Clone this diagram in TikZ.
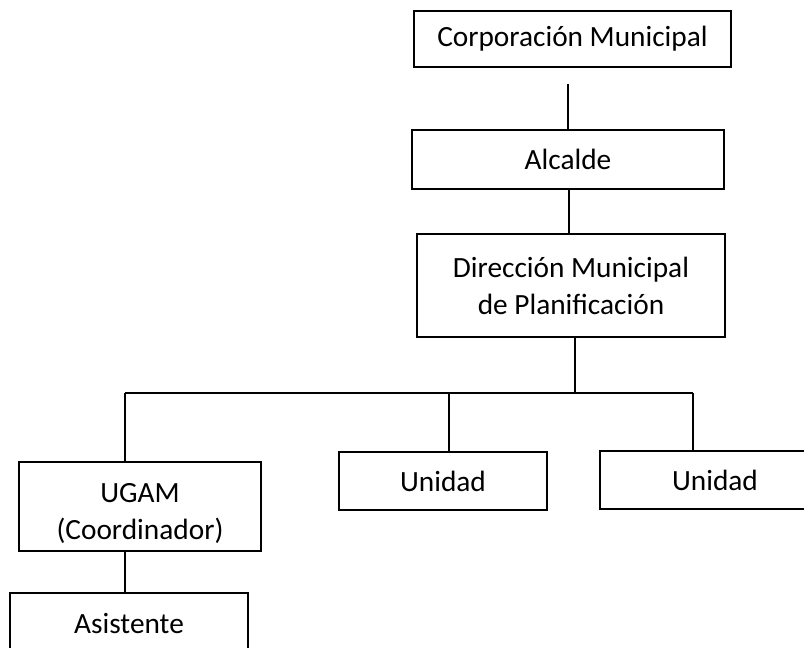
\documentclass[tikz,border=0pt]{standalone}
\usepackage{fontspec}
\setmainfont{Carlito}
\usepackage{tikz}
\usetikzlibrary{positioning}

\begin{document}
\begin{tikzpicture}[x=0.75pt,y=-0.75pt,line width=1.1pt,
        unit/.style={draw,rectangle,inner sep=0pt,align=center,
            font=\fontsize{22}{27.75}\selectfont}]
        \useasboundingbox (0,0) rectangle (804,647);
        \clip (0,0) rectangle (804,647);

        \node[unit, minimum width=317*0.75pt, minimum height=56*0.75pt]  (corp)    at (572.5,39)  {Corporación Municipal};
        \node[unit, minimum width=312*0.75pt, minimum height=59*0.75pt]  (alcalde) at (568,159.5) {Alcalde};
        \node[unit, minimum width=308*0.75pt, minimum height=103*0.75pt] (dmp)     at (571,285.5) {Dirección Municipal\\de Planificación};
        \node[unit, minimum width=242*0.75pt, minimum height=89*0.75pt,
            label={[align=center,font=\fontsize{22}{27.75}\selectfont,yshift=-5pt]center:{UGAM\\(Coordinador)}}]
                                                                         (ugam)    at (140,506.5) {};
        \node[unit, minimum width=208*0.75pt, minimum height=58*0.75pt]  (unidad1) at (443,481)   {Unidad};
        \node[unit, minimum width=230*0.75pt, minimum height=58*0.75pt]  (unidad2) at (715,480)   {Unidad};
        \node[unit, minimum width=238*0.75pt, minimum height=62*0.75pt]  (asist)   at (129,624)   {Asistente};

        \coordinate (busL) at (125,393);
        \coordinate (busM) at (449,393);
        \coordinate (busR) at (693,393);
        \coordinate (busT) at (575,393);

        % vertical chain
        \draw ([yshift=-12pt]corp.south -| alcalde.north) -- (alcalde.north);
        \draw (alcalde.south -| 569,0) -- (dmp.north -| 569,0);
        \draw (dmp.south -| busT) -- (busT);

        % bus and drops
        \draw (busL) -- (busR);
        \draw (busL) -- (busL |- ugam.north);
        \draw (busM) -- (busM |- unidad1.north);
        \draw (busR) -- (busR |- unidad2.north);
        \draw (busL |- ugam.south) -- (busL |- asist.north);
    \end{tikzpicture}
\end{document}
